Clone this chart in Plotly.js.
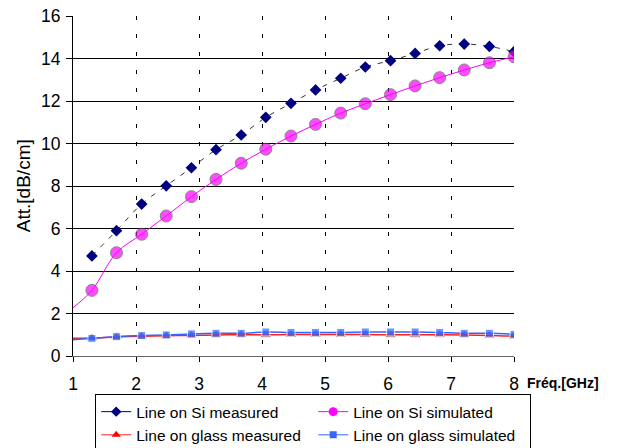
<!DOCTYPE html>
<html>
<head>
<meta charset="utf-8">
<script src="https://cdn.plot.ly/plotly-3.0.1.min.js"></script>
<style>html,body{margin:0;padding:0;background:#fff;}#chart{width:640px;height:448px;}</style>
</head>
<body>
<div id="chart"></div>
<script>
// Frequencies (GHz)
var freq = [1.3, 1.69, 2.09, 2.48, 2.88, 3.27, 3.67, 4.06, 4.46, 4.85, 5.25, 5.64, 6.04, 6.43, 6.82, 7.21, 7.61, 8.0];
// Simulated curves also begin at 1 GHz
var freqSim = [1.0, 1.3, 1.69, 2.09, 2.48, 2.88, 3.27, 3.67, 4.06, 4.46, 4.85, 5.25, 5.64, 6.04, 6.43, 6.82, 7.21, 7.61, 8.0];

var siMeasured = [4.71, 5.90, 7.15, 8.01, 8.86, 9.71, 10.40, 11.23, 11.89, 12.52, 13.07, 13.60, 13.90, 14.24, 14.60, 14.68, 14.57, 14.32];
var siSimulated = [2.27, 3.09, 4.86, 5.73, 6.59, 7.50, 8.31, 9.07, 9.73, 10.35, 10.90, 11.43, 11.87, 12.30, 12.71, 13.10, 13.46, 13.80, 14.08];
var glassMeasured = [0.84, 0.85, 0.90, 0.93, 0.95, 0.97, 0.99, 1.00, 1.00, 1.01, 1.01, 1.01, 1.01, 1.00, 1.00, 1.00, 0.99, 0.97, 0.93];
var glassSimulated = [0.76, 0.83, 0.91, 0.96, 0.99, 1.04, 1.07, 1.07, 1.13, 1.11, 1.11, 1.11, 1.13, 1.13, 1.13, 1.11, 1.07, 1.07, 1.02];

var xTicks = [1, 2, 3, 4, 5, 6, 7, 8];
var yTicks = [0, 2, 4, 6, 8, 10, 12, 14, 16];

var names = ['Line on Si measured', 'Line on Si simulated', 'Line on glass measured', 'Line on glass simulated'];

function simSizes(n) { var s = []; for (var i = 0; i < freqSim.length; i++) s.push(i === 0 ? 0 : n); return s; }

var FONT = '"Liberation Sans", Arial, sans-serif';

var traces = [
  // trend line of measured Si (dashed)
  {x: freq, y: siMeasured, mode: 'lines', line: {color: '#333333', width: 1, dash: '5px,7px', shape: 'spline'},
   showlegend: false, hoverinfo: 'skip'},
  // measured Si markers
  {x: freq, y: siMeasured, mode: 'markers', name: names[0], showlegend: false,
   marker: {symbol: 'diamond', color: '#000080', size: 9}},
  {x: freqSim, y: siSimulated, mode: 'lines+markers', name: names[1], showlegend: false,
   line: {color: '#FF00FF', width: 1, shape: 'spline'},
   marker: {symbol: 'circle', color: '#FF00FF', size: simSizes(12), line: {color: '#555555', width: 1}}},
  {x: freqSim, y: glassMeasured, mode: 'lines+markers', name: names[2], showlegend: false,
   line: {color: '#FF2020', width: 1.5, shape: 'spline'},
   marker: {symbol: 'triangle-up', color: '#FF0000', size: simSizes(8), line: {color: '#000000', width: 0.5}}},
  {x: freqSim, y: glassSimulated, mode: 'lines+markers', name: names[3], showlegend: false,
   line: {color: '#3366FF', width: 1.5, shape: 'spline'},
   marker: {symbol: 'square', color: '#3366FF', size: simSizes(8)}},
  // legend entries (no data)
  {x: [null], y: [null], mode: 'lines+markers', name: names[0],
   line: {color: '#000080', width: 1}, marker: {symbol: 'diamond', color: '#000080', size: 8}},
  {x: [null], y: [null], mode: 'lines+markers', name: names[1],
   line: {color: '#FF00FF', width: 1}, marker: {symbol: 'circle', color: '#FF00FF', size: 9}},
  {x: [null], y: [null], mode: 'lines+markers', name: names[2],
   line: {color: '#FF2020', width: 1}, marker: {symbol: 'triangle-up', color: '#FF0000', size: 8}},
  {x: [null], y: [null], mode: 'lines+markers', name: names[3],
   line: {color: '#3366FF', width: 1}, marker: {symbol: 'square', color: '#3366FF', size: 7}}
];

var layout = {
  width: 640, height: 448,
  margin: {l: 73, r: 126, t: 16, b: 92, autoexpand: false},
  paper_bgcolor: '#ffffff', plot_bgcolor: '#ffffff',
  font: {family: FONT, size: 17, color: '#000000'},
  showlegend: true,
  xaxis: {
    range: [1, 8], tickvals: xTicks, ticktext: xTicks.map(String),
    showgrid: true, gridcolor: '#000000', gridwidth: 1, griddash: '4px,14px',
    zeroline: false, showline: true, linecolor: '#666666', linewidth: 1,
    ticks: 'outside', ticklen: 5, tickcolor: '#000000', ticklabelstandoff: 7,
    tickfont: {family: FONT, size: 17.5}
  },
  yaxis: {
    range: [0, 16], tickvals: yTicks, ticktext: yTicks.map(String),
    showgrid: true, gridcolor: '#000000', gridwidth: 1,
    zeroline: false, showline: true, linecolor: '#000000', linewidth: 1,
    ticks: 'outside', ticklen: 6, tickcolor: '#000000', ticklabelstandoff: 2,
    tickfont: {family: FONT, size: 17.5}
  },
  legend: {
    orientation: 'h', x: 1.039, xanchor: 'right', y: -0.112, yanchor: 'top',
    bordercolor: '#000000', borderwidth: 1, bgcolor: '#ffffff',
    font: {family: FONT, size: 15.5}, entrywidth: 172, traceorder: 'normal'
  },
  annotations: [
    {text: 'Att.[dB/cm]', xref: 'paper', yref: 'paper', x: -0.113, y: 0.5,
     xanchor: 'center', yanchor: 'middle', textangle: -90, showarrow: false,
     font: {family: FONT, size: 19}},
    {text: '<b>Fréq.[GHz]</b>', xref: 'paper', yref: 'paper', x: 1.111, y: -0.079,
     xanchor: 'center', yanchor: 'middle', showarrow: false,
     font: {family: FONT, size: 14}}
  ]
};

Plotly.newPlot('chart', traces, layout, {displayModeBar: false, staticPlot: true});
</script>
</body>
</html>
